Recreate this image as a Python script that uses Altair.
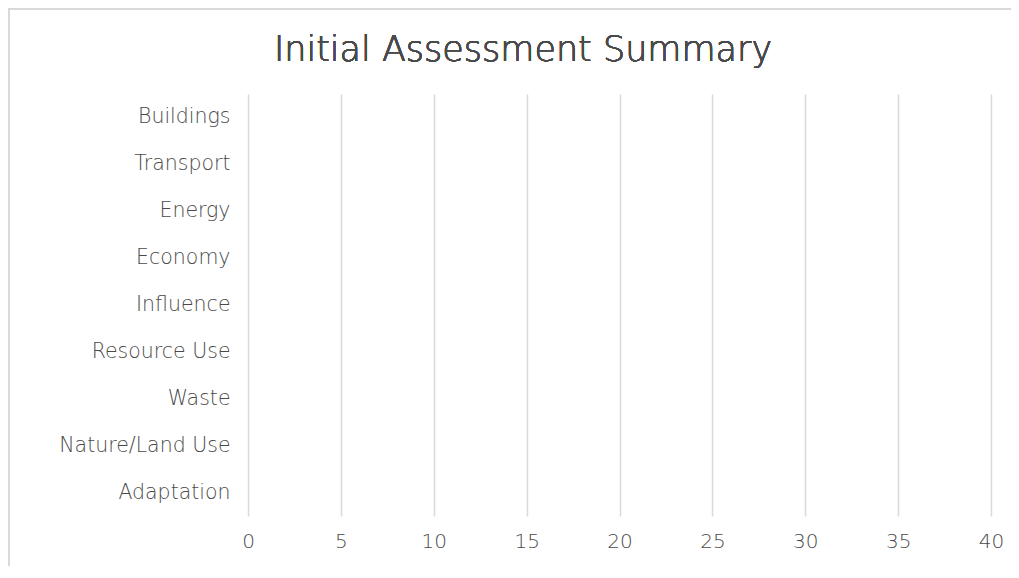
import altair as alt
import pandas as pd

categories = ["Buildings", "Transport", "Energy", "Economy", "Influence",
              "Resource Use", "Waste", "Nature/Land Use", "Adaptation"]
values = [0, 0, 0, 0, 0, 0, 0, 0, 0]
x_ticks = [0, 5, 10, 15, 20, 25, 30, 35, 40]

df = pd.DataFrame({"category": categories, "value": values})

FONT = "DejaVu Sans"
GREY = "#4a4a4a"

bars = alt.Chart(df).mark_bar(color="#4472C4").encode(
    x=alt.X("value:Q", scale=alt.Scale(domain=[0, 40], nice=False),
            axis=alt.Axis(values=x_ticks, title=None, grid=True, gridColor="#d9d9d9",
                          gridWidth=1.5, domain=False, ticks=False, labelPadding=15,
                          labelFlush=False, labelFontWeight=300,
                          labelFontSize=20, labelColor=GREY, labelFont=FONT)),
    y=alt.Y("category:N", sort=categories,
            axis=alt.Axis(title=None, domain=False, ticks=False, grid=False,
                          labelPadding=18, labelFontSize=20.5, labelColor=GREY,
                          labelFontWeight=300,
                          labelFont=FONT, labelLimit=300)),
)

frame = alt.Chart(df).mark_rect(fill=None, stroke="#d9d9d9", strokeWidth=2, clip=False).encode(
    x=alt.value(-239), x2=alt.value(800),
    y=alt.value(-85), y2=alt.value(520),
)

title = alt.Chart(df).mark_text(fontSize=35, font=FONT, fontWeight=300, color=GREY,
                                 align="center", baseline="middle").encode(
    x=alt.value(275), y=alt.value(-44), text=alt.value("Initial Assessment Summary"),
)

chart = alt.layer(frame, bars, title).properties(
    width=743, height=422,
    padding={"left": 240, "top": 86, "right": 20, "bottom": 50},
    autosize=alt.AutoSizeParams(type="none"),
).configure_view(stroke=None)

chart.save("out.html", embed_options={"renderer": "svg", "actions": False})
